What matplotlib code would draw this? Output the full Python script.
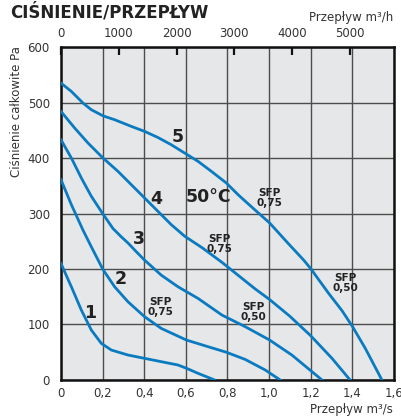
import matplotlib.pyplot as plt
import numpy as np

# Curves: flow [m3/s] and total pressure [Pa]
c1_x = [0, 0.05, 0.098, 0.146, 0.194, 0.242, 0.322, 0.402, 0.482, 0.5625, 0.604, 0.659, 0.739]
c1_y = [210, 168, 126, 90, 66, 54, 45, 39, 33, 27, 21, 12, 0]

c2_x = [0, 0.05, 0.106, 0.146, 0.202, 0.258, 0.322, 0.402, 0.482, 0.603, 0.707, 0.795,
        0.886, 0.982, 1.054]
c2_y = [361, 316, 270, 240, 199, 168, 141, 114, 93, 72, 60, 50, 37, 18, 0]

c3_x = [0, 0.05, 0.098, 0.146, 0.202, 0.25, 0.29, 0.322, 0.36, 0.402, 0.482, 0.5625, 0.659,
        0.774, 0.886, 1.003, 1.11, 1.255]
c3_y = [433, 400, 364, 331, 299, 273, 258, 247, 232, 216, 189, 168, 147, 117, 96, 72, 45, 0]

c4_x = [0, 0.066, 0.13, 0.202, 0.274, 0.338, 0.402, 0.466, 0.53, 0.595, 0.68, 0.774,
        0.854, 0.934, 1.003, 1.1, 1.2, 1.303, 1.39]
c4_y = [484, 454, 427, 400, 376, 352, 328, 304, 280, 259, 238, 212, 188, 164, 145, 115,
        80, 39, 0]

c5_x = [0, 0.05, 0.106, 0.146, 0.202, 0.258, 0.338, 0.402, 0.466, 0.53, 0.603, 0.659,
        0.723, 0.795, 0.854, 0.934, 1.003, 1.095, 1.167, 1.2, 1.287, 1.351, 1.402, 1.463,
        1.543]
c5_y = [535, 520, 499, 487, 476, 469, 457, 448, 437, 424, 407, 394, 376, 355, 333, 306,
        283, 245, 216, 201, 156, 125, 96, 57, 0]

curves = [(c1_x, c1_y), (c2_x, c2_y), (c3_x, c3_y), (c4_x, c4_y), (c5_x, c5_y)]

# curve numbers and annotations (text, x, y)
numbers = [('1', 0.139, 121), ('2', 0.288, 182), ('3', 0.375, 254),
           ('4', 0.46, 326), ('5', 0.5625, 438)]
sfp_labels = [('SFP\n0,75', 1.0, 328), ('SFP\n0,75', 0.76, 245), ('SFP\n0,75', 0.476, 132),
              ('SFP\n0,50', 0.923, 122), ('SFP\n0,50', 1.365, 175)]

x_ticks = [0, 0.2, 0.4, 0.6, 0.8, 1.0, 1.2, 1.4, 1.6]
x_labels = ['0', '0,2', '0,4', '0,6', '0,8', '1,0', '1,2', '1,4', '1,6']
y_ticks = [0, 100, 200, 300, 400, 500, 600]
top_ticks = [0, 1000, 2000, 3000, 4000, 5000]

blue = '#0a7bc1'
txt = '#333333'

fig = plt.figure(figsize=(4.01, 4.19), dpi=100)
ax = fig.add_axes([0.152, 0.0931, 0.830, 0.7947])
ax.set_facecolor('#e6e7e8')

for x, y in curves:
    ax.plot(x, y, color=blue, lw=2.0, solid_joinstyle='round', zorder=3)

ax.set_xlim(0, 1.6)
ax.set_ylim(0, 600)
ax.set_xticks(x_ticks)
ax.set_xticklabels(x_labels)
ax.set_yticks(y_ticks)
ax.tick_params(axis='x', length=0, labelsize=8.5, labelcolor=txt, pad=5)
ax.tick_params(axis='y', length=0, labelsize=8.5, labelcolor=txt, pad=8)
ax.grid(True, color='#4d4d4d', lw=1.0, zorder=1)
for s in ax.spines.values():
    s.set_linewidth(1.8)
    s.set_color('#111111')

top = ax.secondary_xaxis('top', functions=(lambda v: v * 3600, lambda v: v / 3600))
top.set_xticks(top_ticks)
top.set_xticklabels([str(t) for t in top_ticks])
top.tick_params(direction='in', length=6, width=1.6, color='#111111',
                labelsize=8.5, labelcolor=txt, pad=5)

for t, x, y in numbers:
    ax.text(x, y, t, fontsize=12.5, fontweight='bold', color='#222222',
            ha='center', va='center', zorder=4)
ax.text(0.71, 330, '50°C', fontsize=12.5, fontweight='bold', color='#222222',
        ha='center', va='center', zorder=4)
for t, x, y in sfp_labels:
    ax.text(x, y, t, fontsize=7.5, fontweight='bold', color='#222222',
            ha='center', va='center', linespacing=0.95, zorder=4)

fig.text(10 / 401, 1 - 12 / 419, 'CIŚNIENIE/PRZEPŁYW', fontsize=12, fontweight='bold',
         color='#222222', ha='left', va='center')
fig.text(393 / 401, 1 - 17 / 419, 'Przepływ m³/h', fontsize=8.5, color=txt,
         ha='right', va='center')
fig.text(393 / 401, 1 - 409 / 419, 'Przepływ m³/s', fontsize=8.5, color=txt,
         ha='right', va='center')
fig.text(17 / 401, 1 - 112 / 419, 'Ciśnienie całkowite Pa', fontsize=8.5, color=txt,
         ha='center', va='center', rotation=90)

plt.savefig('out.png', dpi=100)
